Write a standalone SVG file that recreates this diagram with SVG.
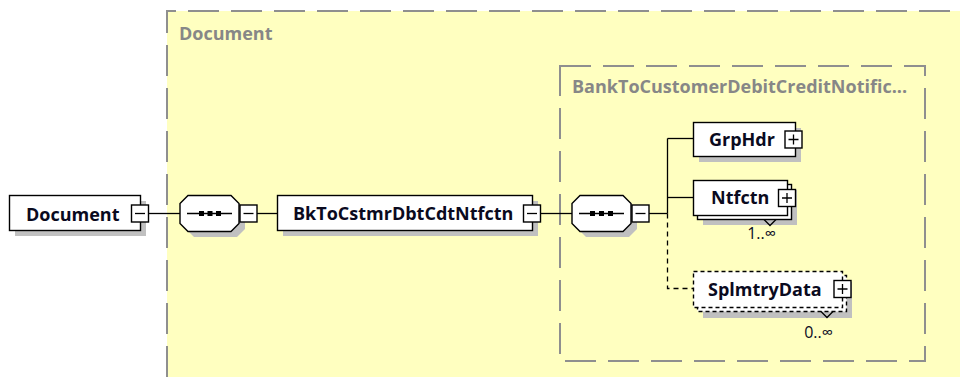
<svg xmlns="http://www.w3.org/2000/svg" width="960" height="377" viewBox="0 0 960 377">
<style>
.area{fill:#FFFFC0}
.frame{fill:none;stroke:#8f8f8f;stroke-width:2;stroke-dasharray:31 12}
.lbl{font-family:"Open Sans","Liberation Sans",sans-serif;font-weight:bold;font-size:18px;fill:#878787}
.name{font-family:"Open Sans","Liberation Sans",sans-serif;font-weight:bold;font-size:18px;fill:#0a0a1e}
.card{font-family:"Open Sans","DejaVu Sans",sans-serif;font-size:16px;fill:#0a0a1e}
.shadow{fill:#c0c0c0}
.box{fill:#fff;stroke:#000;stroke-width:1.4}
.dbox{fill:#fff;stroke:#000;stroke-width:1.4;stroke-dasharray:4 3}
.btn{fill:#fff;stroke:#000;stroke-width:1.4}
.sign{stroke:#000;stroke-width:1.3;fill:none}
.wire{stroke:#000;stroke-width:1.3;fill:none}
.dwire{stroke:#000;stroke-width:1.3;fill:none;stroke-dasharray:5 4}
.dot{fill:#000}
</style>
<defs>
<path id="oct" d="M8,0 H51 L59,8 V28 L51,36 H8 L0,28 V8 Z"/>
</defs>

<g id="outer-area">
<rect class="area" x="167" y="11" width="793" height="366"/>
<path class="frame" d="M167,377 V11 H960"/>
<text class="lbl" x="179" y="40">Document</text>
</g>

<g id="inner-area">
<rect class="frame" x="560" y="66" width="365" height="295"/>
<text class="lbl" x="572" y="93">BankToCustomerDebitCreditNotific...</text>
</g>

<g id="connectors">
<path class="wire" d="M148,213.5 H180"/>
<path class="wire" d="M257,213.5 H277"/>
<path class="wire" d="M540,213.5 H572"/>
<path class="wire" d="M649,213.5 H667.5"/>
<path class="wire" d="M667.5,138.5 V213.5"/>
<path class="wire" d="M667.5,138.5 H693"/>
<path class="wire" d="M667.5,197.5 H693"/>
<path class="dwire" d="M667.5,213.5 V288.5 H693"/>
</g>

<g id="node-document">
<rect class="shadow" x="15" y="201" width="131" height="35"/>
<rect class="box" x="9.5" y="195.5" width="131" height="35"/>
<text class="name" x="26" y="221">Document</text>
<rect class="btn" x="131.5" y="205" width="17" height="17"/>
<path class="sign" d="M135,213.5 H145"/>
</g>

<g id="seq-1">
<use href="#oct" class="shadow" x="186" y="201"/>
<use href="#oct" class="box" x="180" y="195.5"/>
<path class="wire" d="M187,213.5 H232"/>
<rect class="dot" x="199" y="211" width="5" height="5"/>
<rect class="dot" x="207.5" y="211" width="5" height="5"/>
<rect class="dot" x="216" y="211" width="5" height="5"/>
<rect class="btn" x="240" y="205" width="17" height="17"/>
<path class="sign" d="M243.5,213.5 H253.5"/>
</g>

<g id="node-bktocstmr">
<rect class="shadow" x="283" y="201" width="255" height="35"/>
<rect class="box" x="277.5" y="195.5" width="255" height="35"/>
<text class="name" x="293" y="220">BkToCstmrDbtCdtNtfctn</text>
<rect class="btn" x="523.5" y="205" width="17" height="17"/>
<path class="sign" d="M527,213.5 H537"/>
</g>

<g id="seq-2">
<use href="#oct" class="shadow" x="578" y="201"/>
<use href="#oct" class="box" x="572" y="195.5"/>
<path class="wire" d="M579,213.5 H624"/>
<rect class="dot" x="590" y="211" width="5" height="5"/>
<rect class="dot" x="599" y="211" width="5" height="5"/>
<rect class="dot" x="608" y="211" width="5" height="5"/>
<rect class="btn" x="632" y="205" width="17" height="17"/>
<path class="sign" d="M635.5,213.5 H645.5"/>
</g>

<g id="node-grphdr">
<rect class="shadow" x="699" y="128" width="102" height="34"/>
<rect class="box" x="693.5" y="122.5" width="102" height="34"/>
<text class="name" x="709" y="146">GrpHdr</text>
<rect class="btn" x="785" y="131" width="17" height="17"/>
<path class="sign" d="M788.5,139.5 H798.5 M793.5,134.5 V144.5"/>
</g>

<g id="node-ntfctn">
<rect class="shadow" x="703" y="190" width="94" height="35"/>
<rect class="box" x="697.5" y="184.5" width="94" height="35"/>
<rect class="box" x="693.5" y="180.5" width="94" height="35"/>
<text class="name" x="711" y="204">Ntfctn</text>
<rect class="btn" x="778.5" y="189.5" width="17" height="17"/>
<path class="sign" d="M782,198 H792 M787,193 V203"/>
<path class="wire" d="M764,219.5 L770,225.5 L776,219.5"/>
<text class="card" x="776" y="239" text-anchor="end">1..∞</text>
</g>

<g id="node-splmtrydata">
<rect class="shadow" x="703" y="282" width="149" height="36"/>
<rect class="dbox" x="697.5" y="275.5" width="149" height="36"/>
<rect class="dbox" x="693.5" y="271.5" width="149" height="36"/>
<text class="name" x="708" y="296">SplmtryData</text>
<rect class="btn" x="834" y="280.5" width="17" height="17"/>
<path class="sign" d="M837.5,289 H847.5 M842.5,284 V294"/>
<path class="wire" d="M821,311.5 L827,317.5 L833,311.5"/>
<text class="card" x="833" y="338" text-anchor="end">0..∞</text>
</g>
</svg>
